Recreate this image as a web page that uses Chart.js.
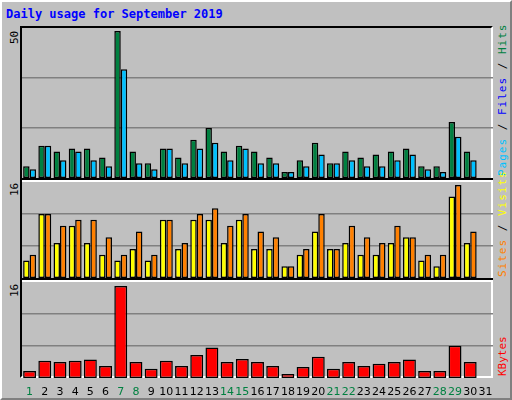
<!DOCTYPE html>
<html>
<head>
<meta charset="utf-8">
<script src="https://cdn.jsdelivr.net/npm/chart.js@4/dist/chart.umd.min.js"></script>
<style>
  html, body { margin: 0; padding: 0; background: #c0c0c0; }
  #frame { position: relative; width: 512px; height: 400px; box-sizing: border-box;
           border-top: 2px solid #fff; border-left: 2px solid #fff;
           border-right: 2px solid #808080; border-bottom: 2px solid #808080; }
  .abs { position: absolute; }
  #title { left: 4px; top: 5px; font: bold 12px "DejaVu Sans Mono", monospace; color: #0000ff; }
  #plotbox { left: 18px; top: 24px; width: 473px; height: 352px; box-sizing: border-box;
             border-top: 2px solid #000; border-left: 2px solid #000;
             border-right: 2px solid #fff; border-bottom: 2px solid #fff; }
  .sep { left: 20px; width: 471px; height: 2px; background: #000; border-bottom: 2px solid #fff; }
  .vlab { font: 11px "DejaVu Sans Mono", monospace; white-space: pre;
          transform-origin: 0 0; transform: rotate(-90deg); }
</style>
</head>
<body>
<div id="frame">
  <div id="title" class="abs">Daily usage for September 2019</div>
  <div id="plotbox" class="abs"></div>
  <div class="sep abs" style="top:176px"></div>
  <div class="sep abs" style="top:276px"></div>
  <canvas id="c1" class="abs"></canvas>
  <canvas id="c2" class="abs"></canvas>
  <canvas id="c3" class="abs"></canvas>
  <div class="abs vlab" style="left:6px;top:42px">50</div>
  <div class="abs vlab" style="left:6px;top:194px">16</div>
  <div class="abs vlab" style="left:6px;top:295px">16</div>
  <div class="abs vlab" style="left:494px;top:174px;letter-spacing:1px"><span style="color:#00c0ff">Pages</span><span style="color:#000"> / </span><span style="color:#0000ff">Files</span><span style="color:#000"> / </span><span style="color:#008040">Hits</span></div>
  <div class="abs vlab" style="left:494px;top:275px;letter-spacing:1px"><span style="color:#ff8000">Sites</span><span style="color:#000"> / </span><span style="color:#ffff00">Visits</span></div>
  <div class="abs vlab" style="left:494px;top:374px"><span style="color:#ff0000">KBytes</span></div>
</div>
<script>
const days = Array.from({ length: 31 }, (_, i) => String(i + 1));
const weekendDays = ['1', '7', '8', '14', '15', '21', '22', '28', '29'];

const hits   = [4, 11, 9, 10, 10, 7, 50, 9, 5, 10, 7, 13, 17, 9, 11, 9, 7, 2, 6, 12, 5, 9, 7, 8, 9, 10, 4, 4, 19, 9, 0];
const files  = [3, 11, 6, 9, 6, 4, 37, 5, 3, 10, 5, 10, 12, 6, 10, 5, 5, 2, 4, 8, 5, 6, 4, 4, 6, 8, 3, 2, 14, 6, 0];
const sites  = [3, 11, 6, 9, 6, 4, 3, 5, 3, 10, 5, 10, 10, 6, 10, 5, 5, 2, 4, 8, 5, 6, 4, 4, 6, 7, 3, 2, 14, 6, 0];
const visits = [4, 11, 9, 10, 10, 7, 4, 8, 4, 10, 6, 11, 12, 9, 11, 8, 7, 2, 5, 11, 5, 9, 7, 6, 9, 7, 4, 4, 16, 8, 0];
const kbytes = [1.2, 3.0, 2.8, 3.0, 3.2, 2.1, 16, 2.8, 1.6, 3.0, 2.1, 4.0, 5.3, 2.8, 3.3, 2.8, 2.1, 0.7, 1.9, 3.7, 1.6, 2.8, 2.1, 2.5, 2.8, 3.2, 1.2, 1.2, 5.6, 2.8, 0];

function bar(label, data, color) {
    return { label, data, backgroundColor: color, borderColor: '#000', borderWidth: 1.5,
             borderSkipped: false, categoryPercentage: 0.85, barPercentage: 1 };
}

const dayLabelPlugin = {
    id: 'dayLabels',
    afterDraw(chart) {
        const ctx = chart.ctx;
        const x = chart.scales.x;
        ctx.save();
        ctx.font = '11px "DejaVu Sans", sans-serif';
        ctx.textAlign = 'center';
        ctx.textBaseline = 'middle';
        days.forEach((d, i) => {
            ctx.fillStyle = weekendDays.includes(d) ? '#008040' : '#000';
            ctx.fillText(d, x.getPixelForValue(i), chart.chartArea.bottom + 14);
        });
        ctx.restore();
    }
};

function makePanel(id, top, height, max, datasets, extraBottom) {
    const el = document.getElementById(id);
    el.style.left = '20px';
    el.style.top = top + 'px';
    el.width = 471;
    el.height = height + extraBottom;
    el.style.width = '471px';
    el.style.height = (height + extraBottom) + 'px';
    return new Chart(el, {
        type: 'bar',
        data: { labels: days, datasets },
        options: {
            responsive: false,
            animation: false,
            layout: { padding: { bottom: extraBottom } },
            plugins: { legend: { display: false }, tooltip: { enabled: false } },
            scales: {
                x: { display: false },
                y: {
                    min: 0, max,
                    ticks: { display: false, stepSize: max / 3 },
                    grid: { color: '#808080', lineWidth: 1.5, drawTicks: false },
                    border: { display: false },
                    afterBuildTicks: (s) => { s.ticks = s.ticks.filter(t => t.value > 0.01 && t.value < max - 0.01); }
                }
            }
        },
        plugins: extraBottom ? [dayLabelPlugin] : []
    });
}

makePanel('c1', 26, 150, 51, [bar('Hits', hits, '#008040'), bar('Files', files, '#00c0ff')], 0);
makePanel('c2', 180, 96, 16.5, [bar('Sites', sites, '#ffff00'), bar('Visits', visits, '#ff8000')], 0);
makePanel('c3', 280, 96, 16.7, [bar('KBytes', kbytes, '#ff0000')], 22);
</script>
</body>
</html>
